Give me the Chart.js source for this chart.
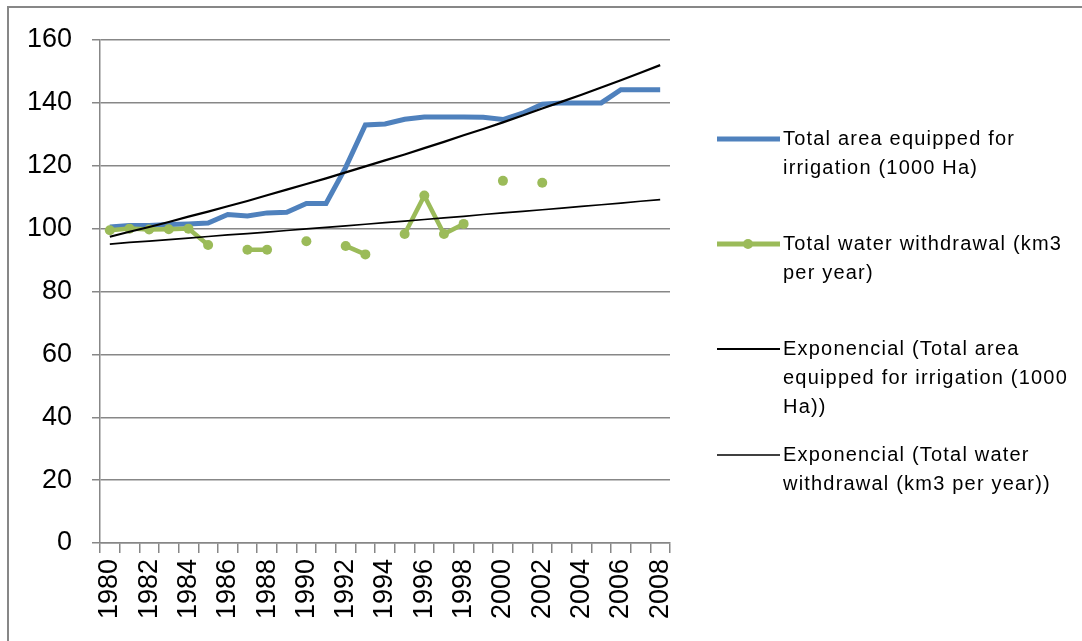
<!DOCTYPE html>
<html>
<head>
<meta charset="utf-8">
<script src="https://cdn.jsdelivr.net/npm/chart.js@4"></script>
<style>
  body { margin: 0; background: #fff; }
  canvas { display: block; }
</style>
</head>
<body>
<canvas id="irrigationChart" width="1082" height="641"></canvas>
<script>
// data
const years = ['1980','1981','1982','1983','1984','1985','1986','1987','1988','1989','1990','1991','1992','1993','1994',
  '1995','1996','1997','1998','1999','2000','2001','2002','2003','2004','2005','2006','2007','2008'];
const areaIrrigated = [100.5, 101, 101, 101.3, 101.5, 101.8, 104.5, 104, 105, 105.2, 108, 108, 119.5, 133, 133.3,
  134.8, 135.5, 135.5, 135.5, 135.4, 134.7, 136.7, 139.6, 140, 140, 140, 144.2, 144.2, 144.2];
const waterWithdrawal = [99.5, 100, 99.7, 99.8, 100, 94.8, null, 93.3, 93.3, null, 96, null, 94.5, 91.8, null,
  98.3, 110.5, 98.3, 101.5, null, 115.2, null, 114.6, null, null, null, null, null, null];
const trendArea = [97.4, 99.0, 100.5, 102.1, 103.8, 105.4, 107.1, 108.8, 110.6, 112.4, 114.2, 116.0, 117.9, 119.8, 121.7,
  123.6, 125.6, 127.6, 129.7, 131.7, 133.8, 136.0, 138.2, 140.4, 142.6, 144.9, 147.2, 149.6, 152.0];
const trendWater = [95.1, 95.6, 96.0, 96.5, 97.0, 97.5, 98.0, 98.4, 98.9, 99.4, 99.9, 100.4, 100.9, 101.4, 101.9,
  102.4, 102.9, 103.4, 103.9, 104.5, 105.0, 105.5, 106.0, 106.5, 107.1, 107.6, 108.1, 108.7, 109.2];
const yTicks = [0, 20, 40, 60, 80, 100, 120, 140, 160];

const legendItems = [
  { lines: ['Total area equipped for', 'irrigation (1000 Ha)'], color: '#4f81bd', width: 5, y: 139 },
  { lines: ['Total water withdrawal (km3', 'per year)'], color: '#9bbb59', width: 5, y: 244, marker: true },
  { lines: ['Exponencial (Total area', 'equipped for irrigation (1000', 'Ha))'], color: '#000', width: 2.2, y: 349 },
  { lines: ['Exponencial (Total water', 'withdrawal (km3 per year))'], color: '#000', width: 1.6, y: 455 }
];

const gray = '#878787';

// frame + legend drawn by hand, excel style
const extras = {
  id: 'extras',
  beforeDraw(chart) {
    const ctx = chart.ctx;
    ctx.save();
    ctx.fillStyle = '#fff';
    ctx.fillRect(0, 0, chart.width, chart.height);
    ctx.strokeStyle = gray;
    ctx.lineWidth = 2;
    ctx.beginPath();
    ctx.moveTo(8, chart.height);
    ctx.lineTo(8, 7);
    ctx.lineTo(chart.width, 7);
    ctx.stroke();
    ctx.restore();
  },
  afterDraw(chart) {
    const ctx = chart.ctx;
    ctx.save();
    ctx.font = '20px "Liberation Sans", Arial, sans-serif';
    ctx.letterSpacing = '1.2px';
    ctx.textBaseline = 'middle';
    ctx.fillStyle = '#000';
    legendItems.forEach(item => {
      ctx.strokeStyle = item.color;
      ctx.lineWidth = item.width;
      ctx.beginPath();
      ctx.moveTo(717, item.y);
      ctx.lineTo(780, item.y);
      ctx.stroke();
      if (item.marker) {
        ctx.fillStyle = item.color;
        ctx.beginPath();
        ctx.arc(748, item.y, 5, 0, Math.PI * 2);
        ctx.fill();
        ctx.fillStyle = '#000';
      }
      item.lines.forEach((txt, i) => {
        ctx.fillText(txt, 783, item.y + i * 29);
      });
    });
    ctx.restore();
  }
};

const ctx = document.getElementById('irrigationChart').getContext('2d');
new Chart(ctx, {
  type: 'line',
  data: {
    labels: years,
    datasets: [
      {
        label: 'Exponencial (Total area equipped for irrigation (1000 Ha))',
        data: trendArea,
        borderColor: '#000',
        borderWidth: 2.2,
        pointRadius: 0,
        order: 0
      },
      {
        label: 'Exponencial (Total water withdrawal (km3 per year))',
        data: trendWater,
        borderColor: '#000',
        borderWidth: 1.7,
        pointRadius: 0,
        order: 0
      },
      {
        label: 'Total area equipped for irrigation (1000 Ha)',
        data: areaIrrigated,
        borderColor: '#4f81bd',
        borderWidth: 5,
        pointRadius: 0,
        order: 2
      },
      {
        label: 'Total water withdrawal (km3 per year)',
        data: waterWithdrawal,
        borderColor: '#9bbb59',
        backgroundColor: '#9bbb59',
        borderWidth: 4.5,
        pointRadius: 5,
        pointBorderWidth: 0,
        spanGaps: false,
        order: 1
      }
    ]
  },
  options: {
    responsive: false,
    animation: false,
    layout: { padding: { top: 40, right: 412, bottom: 0, left: 0 } },
    elements: { line: { tension: 0 } },
    plugins: { legend: { display: false }, tooltip: { enabled: false } },
    scales: {
      x: {
        offset: true,
        afterFit: s => { s.height = 98; },
        grid: { display: true, drawOnChartArea: false, offset: true, tickLength: 10, color: gray, lineWidth: 1.5 },
        border: { color: gray, width: 1.5 },
        ticks: {
          autoSkip: false,
          maxRotation: 90,
          minRotation: 90,
          padding: 6,
          color: '#000',
          font: { family: '"Liberation Sans", Arial, sans-serif', size: 27 },
          callback: function(val, idx) { return idx % 2 === 0 ? years[idx] : ''; }
        }
      },
      y: {
        min: 0,
        max: 160,
        afterFit: s => { s.width = 100; },
        afterBuildTicks: s => { s.ticks = yTicks.map(v => ({ value: v })); },
        grid: { color: gray, lineWidth: 1.5, tickLength: 8 },
        border: { color: gray, width: 1.5 },
        ticks: {
          padding: 20,
          color: '#000',
          font: { family: '"Liberation Sans", Arial, sans-serif', size: 27 }
        }
      }
    }
  },
  plugins: [extras]
});
</script>
</body>
</html>
